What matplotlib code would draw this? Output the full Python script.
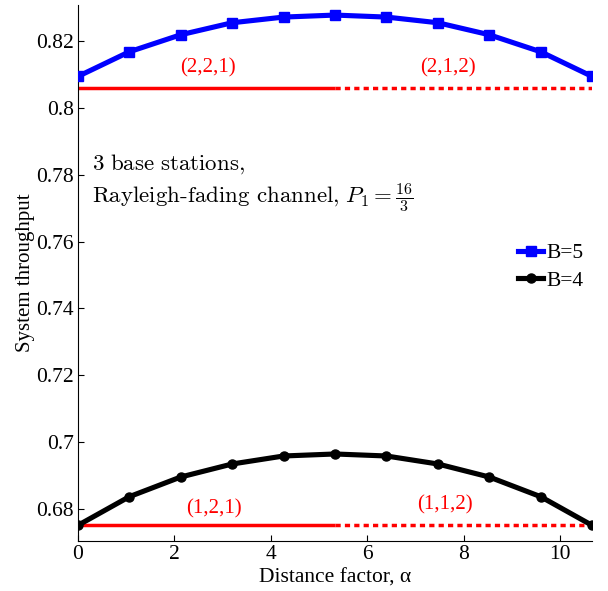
import numpy as np
import matplotlib
matplotlib.use("Agg")
import matplotlib.pyplot as plt

plt.rcParams["font.family"] = ["Liberation Serif", "DejaVu Serif"]
plt.rcParams["mathtext.fontset"] = "cm"

# distance factor, 11 points from 0 to 32/3
alpha = [0, 1.067, 2.133, 3.2, 4.267, 5.333, 6.4, 7.467, 8.533, 9.6, 10.667]
thr_b5 = [0.8095, 0.8169, 0.8220, 0.8256, 0.8273, 0.8279, 0.8273, 0.8256, 0.8220, 0.8169, 0.8095]
thr_b4 = [0.6750, 0.6836, 0.6895, 0.6934, 0.6958, 0.6964, 0.6958, 0.6934, 0.6895, 0.6836, 0.6750]

# single-cell allocation baselines
split = 5.333
base_b5 = 0.8061
base_b4 = 0.6750
alloc_labels = ["(2,2,1)", "(2,1,2)", "(1,2,1)", "(1,1,2)"]
label_x = [2.69, 7.68, 2.82, 7.62]
label_y = [0.8120, 0.8120, 0.6801, 0.6813]

fig = plt.figure(figsize=(6.08, 5.91), dpi=100)
ax = fig.add_axes([0.128, 0.085, 0.846, 0.907])

ax.plot(alpha, thr_b5, color="blue", lw=3.7, marker="s", ms=6.5, label="B=5", zorder=3)
ax.plot(alpha, thr_b4, color="black", lw=3.7, marker="o", ms=6.5, label="B=4", zorder=3)

for yb in [base_b5, base_b4]:
    ax.plot([alpha[0], split], [yb, yb], color="red", lw=2.5, solid_capstyle="butt")
    ax.plot([split, alpha[-1]], [yb, yb], color="red", lw=2.5, linestyle=(0, (1.5, 1.2)))

for s, x, y in zip(alloc_labels, label_x, label_y):
    ax.text(x, y, s, color="red", fontsize=15, ha="center", va="center")

ax.text(0.3, 0.7831, r"$\mathrm{3\ base\ stations,}$", fontsize=16.5, ha="left", va="center")
ax.text(0.3, 0.7730, r"$\text{Rayleigh-fading channel,}\ P_1=\frac{16}{3}$",
        fontsize=16.5, ha="left", va="center")

ax.set_xlim(0, 10.667)
ax.set_ylim(0.6704, 0.831)
ax.set_xticks([0, 2, 4, 6, 8, 10])
ax.set_yticks([0.68, 0.7, 0.72, 0.74, 0.76, 0.78, 0.8, 0.82])
ax.set_yticklabels(["0.68", "0.7", "0.72", "0.74", "0.76", "0.78", "0.8", "0.82"])
ax.tick_params(direction="in", labelsize=15.5, length=4, pad=3)
ax.spines["top"].set_visible(False)
ax.spines["right"].set_visible(False)

ax.set_xlabel("Distance factor, α", fontsize=15.5, labelpad=3)
ax.set_ylabel("System throughput", fontsize=15)
ax.yaxis.set_label_coords(-0.083, 0.5)

ax.legend(loc="upper left", bbox_to_anchor=(0.856, 0.555), frameon=False, fontsize=15.5,
          handlelength=1.15, handletextpad=0.15, labelspacing=0.35, borderaxespad=0,
          borderpad=0)

fig.savefig("out.png", dpi=100)
